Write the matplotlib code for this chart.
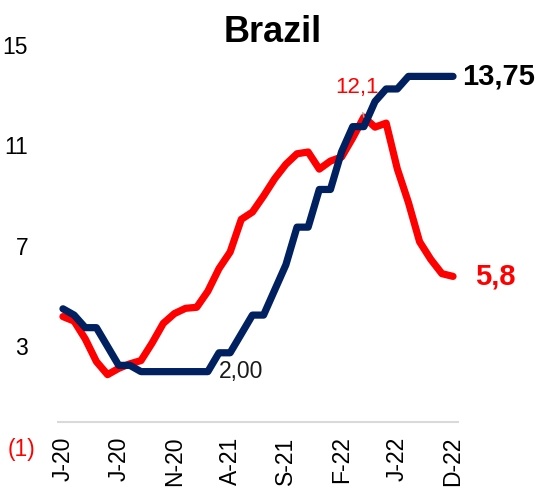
import matplotlib.pyplot as plt
from matplotlib.transforms import ScaledTranslation

plt.rcParams['font.family'] = ['Liberation Sans', 'DejaVu Sans']

# monthly, Jan 2020 .. Dec 2022
months = list(range(36))
inflation = [4.19, 4.01, 3.30, 2.40, 1.88, 2.13, 2.31, 2.44, 3.14, 3.92, 4.31, 4.52,
             4.56, 5.20, 6.10, 6.76, 8.06, 8.35, 8.99, 9.68, 10.25, 10.67, 10.74, 10.06,
             10.38, 10.54, 11.30, 12.13, 11.73, 11.89, 10.07, 8.73, 7.17, 6.47, 5.90, 5.79]
policy_rate = [4.50, 4.25, 3.75, 3.75, 3.00, 2.25, 2.25, 2.00, 2.00, 2.00, 2.00, 2.00,
               2.00, 2.00, 2.75, 2.75, 3.50, 4.25, 4.25, 5.25, 6.25, 7.75, 7.75, 9.25,
               9.25, 10.75, 11.75, 11.75, 12.75, 13.25, 13.25, 13.75, 13.75, 13.75, 13.75, 13.75]
tick_pos = [0, 5, 10, 15, 20, 25, 30, 35]
tick_labels = ['J-20', 'J-20', 'N-20', 'A-21', 'S-21', 'F-22', 'J-22', 'D-22']
y_ticks = [-1, 3, 7, 11, 15]
y_labels = ['(1)', '3', '7', '11', '15']

red = '#FF0000'
navy = '#002060'

fig = plt.figure(figsize=(5.38, 4.91), dpi=100)
ax = fig.add_axes([0.1067, 0.0896, 0.7457, 0.8188])

ax.axhline(0, color='#D9D9D9', lw=1.5, zorder=1)
ax.plot(months, inflation, color=red, lw=5.2, solid_capstyle='round',
        solid_joinstyle='round', zorder=2)
ax.plot(months, policy_rate, color=navy, lw=5.2, solid_capstyle='round',
        solid_joinstyle='round', zorder=3)

ax.set_xlim(-0.5, 35.5)
ax.set_ylim(-1, 15)
for s in ax.spines.values():
    s.set_visible(False)

ax.set_xticks(tick_pos)
ax.set_xticklabels(tick_labels, rotation=90, fontsize=16.5)
ax.tick_params(axis='x', length=0, pad=-7.5)
ax.set_yticks(y_ticks)
ax.set_yticklabels(y_labels, fontsize=16.5)
ax.tick_params(axis='y', length=0, pad=16)
for lab in ax.get_yticklabels():
    if lab.get_text().startswith('('):
        lab.set_color(red)
    else:
        lab.set_transform(lab.get_transform() + ScaledTranslation(-0.07, 0, fig.dpi_scale_trans))

fig.text(0.506, 0.933, 'Brazil', fontsize=26, fontweight='bold', ha='center', va='center')

ax.annotate('13,75', (months[-1], policy_rate[-1]), xytext=(9, 0), textcoords='offset pixels',
            fontsize=21, fontweight='bold', color='black', ha='left', va='center')
ax.annotate('5,8', (months[-1], inflation[-1]), xytext=(22, 0), textcoords='offset pixels',
            fontsize=21, fontweight='bold', color=red, ha='left', va='center')
ax.annotate('2,00', (13, 2.0), xytext=(11, 0), textcoords='offset pixels',
            fontsize=16.5, color='#1a1a1a', ha='left', va='center')
ax.annotate('12,1', (27, inflation[27]), xytext=(-7, 30), textcoords='offset pixels',
            fontsize=16, color=red, ha='center', va='center',
            arrowprops=dict(arrowstyle='-', color='#A6A6A6', lw=1, shrinkA=9, shrinkB=0))

fig.savefig('out.png', dpi=100)
